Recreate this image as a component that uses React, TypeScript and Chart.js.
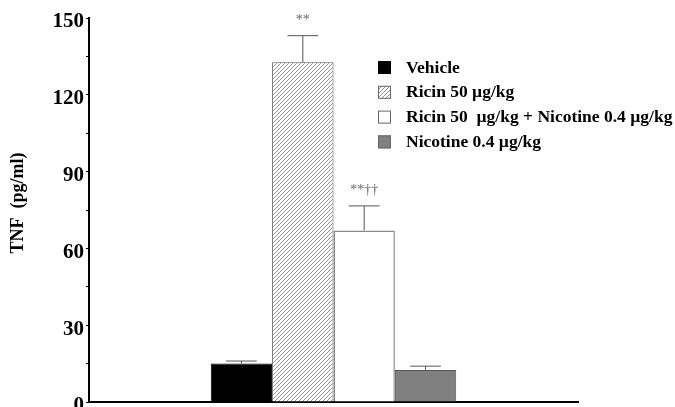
import { useEffect, useRef } from "react"
import { Chart, type ChartConfiguration, registerables } from "chart.js"

Chart.register(...registerables)

const groups = ["TNF"]
const seriesLabels = [
  "Vehicle",
  "Ricin 50 µg/kg",
  "Ricin 50  µg/kg + Nicotine 0.4 µg/kg",
  "Nicotine 0.4 µg/kg",
]
const tnfMeans = [15, 132.7, 67, 12.5]
const tnfSem = [1, 10.4, 9.6, 1.5]
const significance = ["", "**", "**††", ""]
const yMax = 150
const yStep = 15
const yLabelStep = 30
const yTitle = "TNF  (pg/ml)"

const SERIF = "'Liberation Serif', 'Times New Roman', serif"

function makeHatch(): CanvasPattern | string {
  const size = 4
  const c = document.createElement("canvas")
  c.width = size
  c.height = size
  const g = c.getContext("2d")
  if (!g) return "#ddd"
  g.fillStyle = "#fff"
  g.fillRect(0, 0, size, size)
  g.strokeStyle = "#7a7a7a"
  g.lineWidth = 0.8
  g.beginPath()
  g.moveTo(0, size)
  g.lineTo(size, 0)
  g.moveTo(-1, 1)
  g.lineTo(1, -1)
  g.moveTo(size - 1, size + 1)
  g.lineTo(size + 1, size - 1)
  g.stroke()
  const p = g.createPattern(c, "repeat")
  return p ?? "#ddd"
}

export default function App() {
  const chartRef = useRef<HTMLCanvasElement>(null)
  const chartInstanceRef = useRef<Chart | null>(null)

  useEffect(() => {
    if (!chartRef.current) return
    const ctx = chartRef.current.getContext("2d")
    if (!ctx) return

    if (chartInstanceRef.current) {
      chartInstanceRef.current.destroy()
    }

    const hatch = makeHatch()
    const fills: (string | CanvasPattern)[] = ["#000000", hatch, "#ffffff", "#808080"]
    const borders = ["#000000", "#555555", "#8a8a8a", "#555555"]

    // error bars, star marks, axis title and the legend
    const extras = {
      id: "extras",
      afterDatasetsDraw(chart: Chart) {
        const c = chart.ctx
        const y = chart.scales.y
        c.save()
        tnfMeans.forEach((_, i) => {
          const bar: any = chart.getDatasetMeta(i).data[0]
          if (!bar) return
          const top = y.getPixelForValue(tnfMeans[i])
          const errY = y.getPixelForValue(tnfMeans[i] + tnfSem[i])
          const half = bar.width / 4
          c.strokeStyle = "#555"
          c.lineWidth = 1
          c.beginPath()
          c.moveTo(bar.x, top)
          c.lineTo(bar.x, errY)
          c.moveTo(bar.x - half, errY)
          c.lineTo(bar.x + half, errY)
          c.stroke()
          if (significance[i]) {
            c.fillStyle = "#666"
            c.font = `14px ${SERIF}`
            c.textAlign = "center"
            c.textBaseline = "alphabetic"
            c.fillText(significance[i], bar.x, errY - 12)
          }
        })

        // y title
        c.save()
        c.translate(18, (y.top + y.bottom) / 2 - 7)
        c.rotate(-Math.PI / 2)
        c.fillStyle = "#000"
        c.font = `bold 18px ${SERIF}`
        c.textAlign = "center"
        c.textBaseline = "middle"
        c.fillText(yTitle, 0, 0)
        c.restore()

        // legend
        const lx = 378
        const ly = 67
        const gap = 24.8
        c.textAlign = "left"
        c.textBaseline = "middle"
        c.font = `bold 17.5px ${SERIF}`
        seriesLabels.forEach((label, i) => {
          const cy = ly + i * gap
          c.fillStyle = fills[i] as any
          c.fillRect(lx, cy - 6, 13, 13)
          c.strokeStyle = i === 0 ? "#000" : "#666"
          c.lineWidth = 1
          c.strokeRect(lx + 0.5, cy - 5.5, 12, 12)
          c.fillStyle = "#000"
          c.fillText(label, 406, cy + 1)
        })
        c.restore()
      },
    }

    const config: ChartConfiguration = {
      type: "bar",
      data: {
        labels: groups,
        datasets: seriesLabels.map((label, i) => ({
          label,
          data: [tnfMeans[i]],
          backgroundColor: fills[i] as any,
          borderColor: borders[i],
          borderWidth: i === 2 ? 1.5 : 1,
          categoryPercentage: 0.502,
          barPercentage: 1,
        })),
      },
      options: {
        responsive: true,
        maintainAspectRatio: false,
        animation: false,
        layout: { padding: { top: 18, right: 97, bottom: 5, left: 0 } },
        scales: {
          x: {
            grid: { display: false },
            ticks: { display: false },
            border: { display: true, color: "#000", width: 2 },
            afterFit(scale: any) {
              scale.height = 0
              scale.paddingLeft = 0
              scale.paddingRight = 0
            },
          },
          y: {
            min: 0,
            max: yMax,
            ticks: {
              stepSize: yStep,
              padding: 2,
              labelOffset: 4,
              color: "#000",
              font: { family: SERIF, size: 21, weight: "bold" },
              callback: (v: any) => (Number(v) % yLabelStep === 0 ? String(v) : ""),
            },
            grid: {
              drawOnChartArea: false,
              drawTicks: true,
              tickLength: 3,
              tickColor: "#000",
            },
            border: { display: true, color: "#000", width: 2 },
            afterFit(scale: any) {
              scale.width = 89
              scale.paddingTop = 0
              scale.paddingBottom = 0
            },
          },
        },
        plugins: {
          legend: { display: false },
          tooltip: { enabled: false },
        },
      },
      plugins: [extras],
    }

    chartInstanceRef.current = new Chart(ctx, config)

    return () => {
      if (chartInstanceRef.current) {
        chartInstanceRef.current.destroy()
        chartInstanceRef.current = null
      }
    }
  }, [])

  return (
    <div style={{ position: "absolute", left: 0, top: 0, width: 675, height: 407, background: "#fff" }}>
      <canvas ref={chartRef}></canvas>
    </div>
  )
}
